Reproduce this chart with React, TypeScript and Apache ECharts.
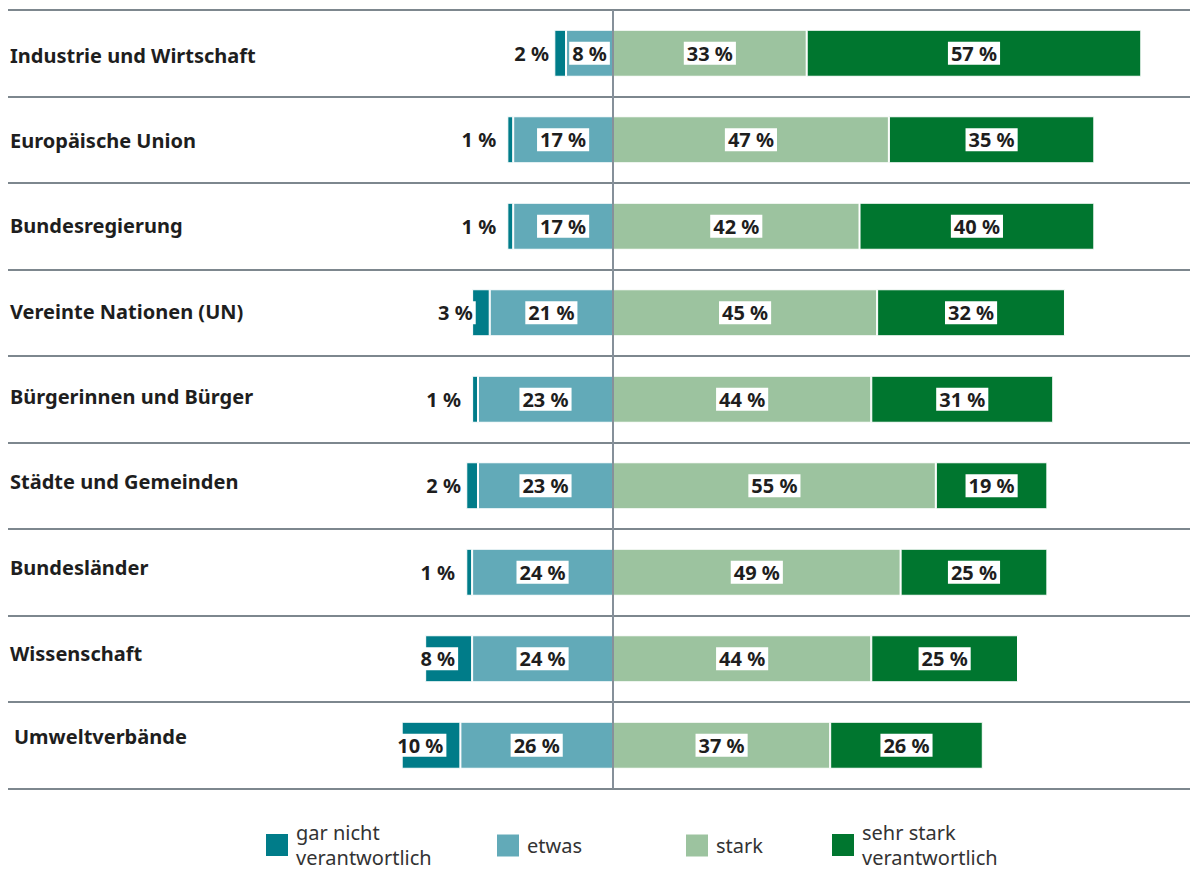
import React, { useEffect, useRef } from "react";
import * as echarts from "echarts";

const categories = [
  "Industrie und Wirtschaft",
  "Europäische Union",
  "Bundesregierung",
  "Vereinte Nationen (UN)",
  "Bürgerinnen und Bürger",
  "Städte und Gemeinden",
  "Bundesländer",
  "Wissenschaft",
  "Umweltverbände",
];
const garNicht = [2, 1, 1, 3, 1, 2, 1, 8, 10];
const etwas = [8, 17, 17, 21, 23, 23, 24, 24, 26];
const stark = [33, 47, 42, 45, 44, 55, 49, 44, 37];
const sehrStark = [57, 35, 40, 32, 31, 19, 25, 25, 26];
const seriesNames = [
  "gar nicht\nverantwortlich",
  "etwas",
  "stark",
  "sehr stark\nverantwortlich",
];

const COLORS = ["#007c89", "#62aab8", "#9cc39f", "#00762f"];
const FONT = "'Noto Sans', sans-serif";
// small vertical nudges of the category labels (px, positive = down)
const labelNudge = [2, 1, -1, -1, -3, -4, -5, -5, -9];
const legendLeft = [261, 492, 681, 827];

const valueLabel = (position: string, distance = 5) => ({
  show: true,
  position,
  distance,
  formatter: (p: any) => `${Math.abs(p.value)} %`,
  color: "#1e1e1e",
  fontFamily: FONT,
  fontWeight: "bold",
  fontSize: 20,
  lineHeight: 23,
  backgroundColor: "#ffffff",
  padding: [0, 3, 0, 3],
});

export default function App() {
  const ref = useRef<HTMLDivElement>(null);
  useEffect(() => {
    if (!ref.current) return;
    const chart = echarts.init(ref.current, undefined, { renderer: "svg" });
    const rich: any = {};
    labelNudge.forEach((s, i) => {
      rich["r" + i] = {
        fontFamily: FONT,
        fontWeight: "bold",
        fontSize: 20,
        color: "#1e1e1e",
        padding: [s > 0 ? 2 * s : 0, 0, s < 0 ? -2 * s : 0, i === 8 ? 4 : 0],
      };
    });
    const barCommon = {
      type: "bar",
      stack: "total",
      barWidth: 47,
      itemStyle: { borderColor: "#ffffff", borderWidth: 1 },
      emphasis: { disabled: true },
    };
    chart.setOption({
      animation: false,
      grid: { left: 8, right: 0, top: 10, bottom: 83.5, containLabel: false },
      xAxis: {
        type: "value",
        min: -103.07,
        max: 98.3,
        show: false,
      },
      yAxis: {
        type: "category",
        inverse: true,
        data: categories,
        axisLine: { show: false, onZero: false },
        axisTick: { show: false },
        splitLine: {
          show: true,
          interval: 0,
          lineStyle: { color: "#7d878e", width: 2 },
        },
        axisLabel: {
          inside: true,
          margin: 2,
          align: "left",
          interval: 0,
          formatter: (v: string, i: number) => `{r${i}|${v}}`,
          rich,
        },
      },
      legend: seriesNames.map((name, i) => ({
        data: [name],
        left: legendLeft[i],
        top: name.includes("\n") ? 815 : 828,
        icon: "rect",
        itemWidth: 22,
        itemHeight: 22,
        selectedMode: false,
        itemStyle: { borderWidth: 0 },
        textStyle: {
          fontFamily: FONT,
          fontSize: 20,
          lineHeight: 25,
          color: "#333333",
          padding: [0, 0, 0, 3],
        },
      })),
      series: [
        {
          ...barCommon,
          name: seriesNames[1],
          data: etwas.map((v) => -v),
          itemStyle: { ...barCommon.itemStyle, color: COLORS[1] },
          label: valueLabel("inside"),
        },
        {
          ...barCommon,
          name: seriesNames[0],
          data: garNicht.map((v) => -v),
          itemStyle: { ...barCommon.itemStyle, color: COLORS[0] },
          label: valueLabel("insideRight", 14),
        },
        {
          ...barCommon,
          name: seriesNames[2],
          data: stark,
          itemStyle: { ...barCommon.itemStyle, color: COLORS[2] },
          label: valueLabel("inside"),
          markLine: {
            silent: true,
            symbol: ["none", "none"],
            label: { show: false },
            lineStyle: { color: "#86909a", width: 2, type: "solid" },
            data: [{ xAxis: 0 }],
          },
        },
        {
          ...barCommon,
          name: seriesNames[3],
          data: sehrStark,
          itemStyle: { ...barCommon.itemStyle, color: COLORS[3] },
          label: valueLabel("inside"),
        },
      ],
    });
    return () => chart.dispose();
  }, []);
  return (
    <div
      ref={ref}
      style={{ position: "absolute", left: 0, top: 0, width: 1190, height: 872 }}
    />
  );
}
